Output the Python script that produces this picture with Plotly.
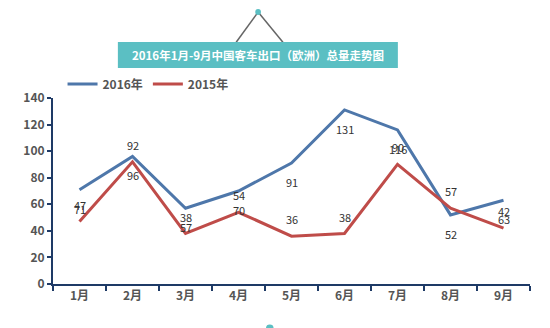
import plotly.graph_objects as go

# Monthly bus exports to Europe, Jan-Sep
months = ["1月", "2月", "3月", "4月", "5月", "6月", "7月", "8月", "9月"]
exports_2016 = [71, 96, 57, 70, 91, 131, 116, 52, 63]
exports_2015 = [47, 92, 38, 54, 36, 38, 90, 57, 42]
y_ticks = [0, 20, 40, 60, 80, 100, 120, 140]

title_text = "2016年1月-9月中国客车出口（欧洲）总量走势图"

BLUE = "#4E77AA"
RED = "#BF4C49"
TEAL = "#5BBFC3"
AXIS = "#1E3A66"
TEXT = "#555555"
FONT = "Noto Sans CJK SC, Liberation Sans, sans-serif"

fig = go.Figure()

fig.add_trace(go.Scatter(
    x=months, y=exports_2016, name="2016年", mode="lines",
    line=dict(color=BLUE, width=3),
))
fig.add_trace(go.Scatter(
    x=months, y=exports_2015, name="2015年", mode="lines",
    line=dict(color=RED, width=3),
))

# Value labels: 2016 below its points, 2015 above its points
annotations = []
label_font = dict(family=FONT, size=11, color="#333333")
for m, v in zip(months, exports_2016):
    annotations.append(dict(x=m, y=v, text=str(v), showarrow=False, yshift=-19,
                            xanchor="center", yanchor="middle", font=label_font))
for m, v in zip(months, exports_2015):
    annotations.append(dict(x=m, y=v, text=str(v), showarrow=False, yshift=17,
                            xanchor="center", yanchor="middle", font=label_font))

annotations.append(dict(
    text=f"<b>{title_text}</b>", xref="paper", yref="paper",
    x=0.430, y=1.231, showarrow=False, xanchor="center", yanchor="middle",
    font=dict(family=FONT, size=11.5, color="white"),
))

# Hanging title banner: string lines, pin and teal plate
shapes = [
    dict(type="line", xref="paper", yref="paper", x0=0.384, y0=1.30, x1=0.430, y1=1.462,
         line=dict(color="#666666", width=1.5)),
    dict(type="line", xref="paper", yref="paper", x0=0.430, y0=1.462, x1=0.482, y1=1.30,
         line=dict(color="#666666", width=1.5)),
    dict(type="circle", xref="paper", yref="paper", x0=0.424, y0=1.446, x1=0.436, y1=1.478,
         fillcolor=TEAL, line=dict(width=0)),
    dict(type="rect", xref="paper", yref="paper", x0=0.136, y0=1.161, x1=0.723, y1=1.301,
         fillcolor=TEAL, line=dict(width=0), layer="above"),
    dict(type="circle", xref="paper", yref="paper", x0=0.4465, y0=-0.26, x1=0.4625, y1=-0.218,
         fillcolor=TEAL, line=dict(width=0)),
]

fig.update_layout(
    width=550, height=328,
    margin=dict(l=53, r=20, t=98, b=44),
    paper_bgcolor="white", plot_bgcolor="white",
    font=dict(family=FONT, color=TEXT),
    shapes=shapes,
    annotations=annotations,
    legend=dict(
        orientation="h", x=0.02, y=1.075, xanchor="left", yanchor="middle",
        font=dict(family=FONT, size=12, color=TEXT, weight="bold"),
        bgcolor="rgba(0,0,0,0)", itemwidth=30, tracegroupgap=0,
    ),
    xaxis=dict(
        range=[-0.5, len(months) - 0.5],
        showline=True, linecolor=AXIS, linewidth=2,
        ticks="outside", tickson="boundaries", ticklen=5, tickwidth=2, tickcolor=AXIS,
        tickfont=dict(family=FONT, size=12, color=TEXT, weight="bold"),
        showgrid=False, zeroline=False,
    ),
    yaxis=dict(
        range=[0, 140], tickvals=y_ticks,
        showline=True, linecolor=AXIS, linewidth=2,
        ticks="outside", ticklen=4, tickwidth=2, tickcolor=AXIS,
        tickfont=dict(family=FONT, size=12, color=TEXT, weight="bold"),
        showgrid=False, zeroline=False,
    ),
)

fig.write_html("out.html")
